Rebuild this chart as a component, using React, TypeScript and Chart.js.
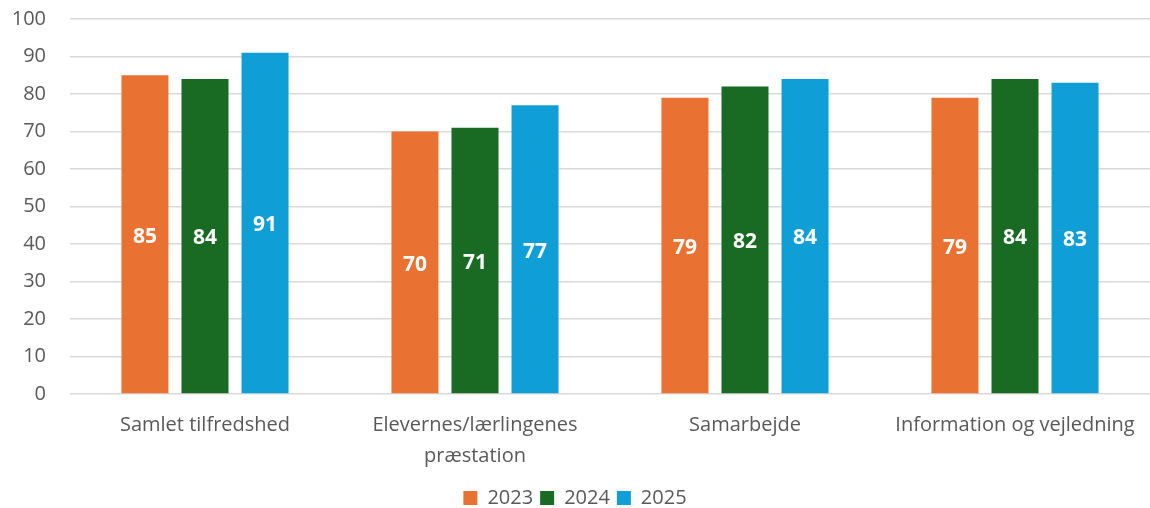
import React, { useEffect, useRef } from "react";
import { Chart, registerables } from "chart.js";
Chart.register(...registerables);

const categories: (string | string[])[] = [
  "Samlet tilfredshed",
  ["Elevernes/lærlingenes", "præstation"],
  "Samarbejde",
  "Information og vejledning",
];
const series2023 = [85, 70, 79, 79];
const series2024 = [84, 71, 82, 84];
const series2025 = [91, 77, 84, 83];
const seriesLabels = ["2023", "2024", "2025"];
const yTicks = [0, 10, 20, 30, 40, 50, 60, 70, 80, 90, 100];

const FONT = "'Open Sans', sans-serif";
const SHIFT = 17;
const CANVAS_H = 535;

const valueLabels = {
  id: "valueLabels",
  afterDatasetsDraw(chart: any) {
    const ctx = chart.ctx;
    ctx.save();
    ctx.fillStyle = "#ffffff";
    ctx.font = `bold 21px ${FONT}`;
    ctx.textAlign = "center";
    ctx.textBaseline = "middle";
    chart.data.datasets.forEach((ds: any, i: number) => {
      const meta = chart.getDatasetMeta(i);
      meta.data.forEach((bar: any, j: number) => {
        const v = ds.data[j];
        const y = chart.scales.y.getPixelForValue(v / 2);
        ctx.fillText(String(v), bar.x, y + 2);
      });
    });
    ctx.restore();
  },
};

export default function App() {
  const ref = useRef<HTMLCanvasElement>(null);
  useEffect(() => {
    if (!ref.current) return;
    const chart = new Chart(ref.current, {
      type: "bar",
      data: {
        labels: categories,
        datasets: [
          { label: seriesLabels[0], data: series2023, backgroundColor: "#E97132" },
          { label: seriesLabels[1], data: series2024, backgroundColor: "#196B24" },
          { label: seriesLabels[2], data: series2025, backgroundColor: "#0F9ED5" },
        ],
      },
      options: {
        animation: false,
        responsive: false,
        maintainAspectRatio: false,
        layout: { padding: { top: -7, right: 0, left: 0, bottom: 0 } },
        datasets: { bar: { categoryPercentage: 0.667, barPercentage: 0.783 } },
        scales: {
          x: {
            grid: { display: false },
            border: { display: false },
            afterFit: (s: any) => { s.height = 87; },
            ticks: { color: "#595959", font: { family: FONT, size: 20, lineHeight: 1.55 }, padding: 8, maxRotation: 0, autoSkip: false },
          },
          y: {
            min: 0,
            max: 100,
            afterBuildTicks: (s: any) => { s.ticks = yTicks.map((v) => ({ value: v })); },
            afterFit: (s: any) => { s.width = 70; },
            grid: { color: "#d9d9d9", lineWidth: 1.5, drawTicks: false },
            border: { display: false },
            ticks: { color: "#595959", font: { family: FONT, size: 20 }, padding: 24 },
          },
        },
        plugins: {
          legend: {
            position: "bottom",
            labels: { color: "#595959", font: { family: FONT, size: 20 }, boxWidth: 14, boxHeight: 14, padding: 7 },
          },
          tooltip: { enabled: false },
        },
      },
      plugins: [valueLabels],
    });
    return () => chart.destroy();
  }, []);
  return (
    <div style={{ position: "fixed", left: 0, top: 0, width: 1150, height: 508, overflow: "hidden", background: "#fff" }}>
      <canvas ref={ref} width={1150} height={CANVAS_H} style={{ position: "absolute", left: 0, top: -SHIFT }} />
    </div>
  );
}
